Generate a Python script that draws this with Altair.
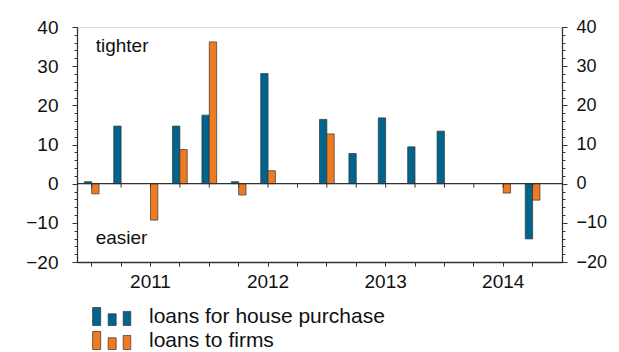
import altair as alt
import pandas as pd

periods = ["2011Q1", "2011Q2", "2011Q3", "2011Q4", "2012Q1", "2012Q2", "2012Q3", "2012Q4",
           "2013Q1", "2013Q2", "2013Q3", "2013Q4", "2014Q1", "2014Q2", "2014Q3", "2014Q4"]
house = [0.5, 14.7, None, 14.7, 17.5, 0.5, 28.1, None, 16.4, 7.7, 16.8, 9.4, 13.4, None, None, -14.1]
firms = [-2.6, None, -9.3, 8.7, 36.2, -2.9, 3.3, None, 12.7, None, None, None, None, None, -2.4, -4.2]
series = ["loans for house purchase", "loans to firms"]
colors = ["#00648c", "#f07a22"]
y_ticks = [-20, -10, 0, 10, 20, 30, 40]
y_minor = list(range(-20, 41, 2))
notes = ["tighter", "easier"]
note_y = [35.2, -13.8]

rows = []
for p, h, f in zip(periods, house, firms):
    if h is not None:
        rows.append({"period": p, "series": series[0], "value": h})
    if f is not None:
        rows.append({"period": p, "series": series[1], "value": f})
df = pd.DataFrame(rows)
df_periods = pd.DataFrame({"period": periods})
df_notes = pd.DataFrame({"note": notes, "y": note_y, "period": [periods[0]] * 2})
df_zero = pd.DataFrame({"z": [0]})

DARK = "#333333"
FS = 19

xscale = alt.Scale(domain=periods, paddingInner=0, paddingOuter=0.25, align=0)
yscale = alt.Scale(domain=[-20, 40], nice=False, zero=False)

x_axis = alt.Axis(title=None, labelAngle=0, tickSize=4, labelPadding=6,
                  labelExpr="indexof(datum.value, 'Q3') > 0 ? substring(datum.value, 0, 4) : ''",
                  domainColor=DARK, domainWidth=1.3, tickColor=DARK, tickWidth=1,
                  labelFontSize=FS, grid=False)

left_major = alt.Axis(orient="left", values=y_ticks, tickSize=5, labelPadding=14, title=None,
                      grid=False, domainColor=DARK, domainWidth=1.3, tickColor=DARK, tickWidth=1,
                      labelFontSize=FS)
left_minor = alt.Axis(orient="left", values=y_minor, tickSize=3, labels=False, domain=False,
                      title=None, grid=False, tickColor=DARK, tickWidth=1)
right_major = alt.Axis(orient="right", values=y_ticks, tickSize=5, labelPadding=9, title=None,
                       grid=False, domainColor=DARK, domainWidth=1.3, tickColor=DARK, tickWidth=1,
                       labelFontSize=18)
right_minor = alt.Axis(orient="right", values=y_minor, tickSize=3, labels=False, domain=False,
                       title=None, grid=False, tickColor=DARK, tickWidth=1)

legend_path = "M-2.1,-1H-1.2V1H-2.1Z M-0.37,-0.3H0.52V1H-0.37Z M1.3,-0.56H2.14V1H1.3Z"

xenc = alt.X("period:N", scale=xscale, sort=periods, axis=x_axis)

bars = alt.Chart(df).mark_bar(stroke=DARK, strokeWidth=0.7).encode(
    x=xenc,
    xOffset=alt.XOffset("series:N", scale=alt.Scale(domain=series, paddingInner=0, paddingOuter=1)),
    y=alt.Y("value:Q", scale=yscale, axis=left_major),
    color=alt.Color("series:N", scale=alt.Scale(domain=series, range=colors),
                    legend=alt.Legend(title=None, orient="none", legendX=24, legendY=279,
                                      symbolType=legend_path, symbolSize=324,
                                      symbolStrokeColor=DARK, symbolStrokeWidth=0.7,
                                      symbolOpacity=1, labelOffset=27, labelFontSize=21,
                                      labelLimit=500, rowPadding=2, direction="vertical",
                                      labelColor="#111")),
)

zero = alt.Chart(df_zero).mark_rule(color=DARK, strokeWidth=1.3).encode(
    y=alt.Y("z:Q", scale=yscale, axis=left_minor)
)

ticks = alt.Chart(df_periods).mark_rule(color=DARK, strokeWidth=1).encode(
    x=xenc,
    y=alt.YDatum(0, scale=yscale, axis=right_major),
    y2=alt.Y2Datum(-1),
)

text = alt.Chart(df_notes).mark_text(align="left", dx=4, fontSize=FS, color="#111").encode(
    x=xenc,
    y=alt.Y("y:Q", scale=yscale, axis=right_minor),
    text="note:N",
)

chart = alt.layer(bars, zero, ticks, text).resolve_axis(y="independent").properties(
    width=485, height=235,
    padding={"left": 69, "top": 19, "right": 49, "bottom": 88},
    autosize=alt.AutoSizeParams(type="none"),
    background="white",
).configure_view(stroke="#999999", strokeWidth=1).configure(font="Liberation Sans").configure_axis(
    labelColor="#111", labelFont="Liberation Sans"
).configure_legend(labelFont="Liberation Sans")

chart.save("out.html", embed_options={"renderer": "svg", "actions": False})
